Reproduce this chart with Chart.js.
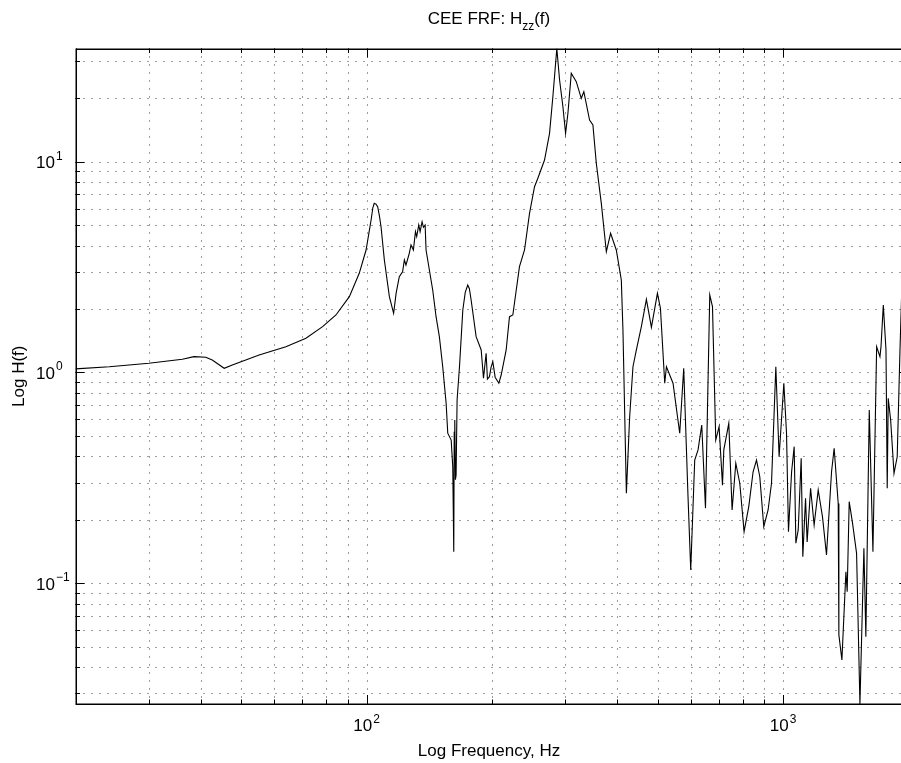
<!DOCTYPE html>
<html>
<head>
<meta charset="utf-8">
<title>CEE FRF</title>
<script src="https://cdn.jsdelivr.net/npm/chart.js@4.4.1/dist/chart.umd.min.js"></script>
<style>
  html, body { margin: 0; padding: 0; overflow: hidden; background: #fff; width: 901px; height: 763px; }
  canvas { display: block; }
</style>
</head>
<body>
<canvas id="frf" width="912" height="763"></canvas>
<script>
// Frequency response magnitude H_zz(f), frequency in Hz
const freqHz = [
  20, 24.1, 30.0, 36.1, 38.5, 41.1, 42.6, 45.5, 47.6, 55.2,
  64.0, 71.5, 78.4, 84.4, 90.9, 96.0, 99.7, 101.2, 102.5, 103.5,
  104.3, 105.3, 106.3, 107.3, 108.3, 110.3, 113.4, 116.1, 117.7, 119.8,
  122.0, 123.2, 124.3, 126.6, 127.8, 129.5, 131.0, 131.9, 133.4, 134.4,
  135.9, 136.9, 138.2, 138.9, 144.1, 146.8, 149.5, 152.3, 155.2, 156.6,
  159.6, 161.0, 161.9, 162.3, 162.8, 163.4, 164.0, 164.9, 167.1, 170.2,
  172.5, 174.9, 176.5, 178.2, 183.2, 188.4, 190.8, 193.6, 195.0, 197.2,
  199.0, 200.9, 203.5, 207.7, 210.4, 216.3, 220.3, 224.4, 232.8, 239.4,
  246.1, 253.0, 257.7, 267.4, 274.9, 280.0, 283.5, 286.2, 290.6, 296.0,
  300.4, 304.3, 310.0, 318.7, 327.6, 332.3, 343.0, 349.4, 356.0, 366.0,
  376.3, 385.3, 397.6, 408.8, 412.5, 420.4, 428.1, 436.0, 444.3, 456.7,
  469.6, 482.8, 499.1, 507.5, 519.7, 524.6, 544.1, 564.6, 577.2, 591.1,
  600.0, 613.4, 624.8, 637.7, 651.0, 666.6, 676.7, 689.1, 701.9, 715.2,
  720.4, 740.6, 754.2, 769.8, 786.9, 805.9, 827.0, 847.1, 863.2, 879.0,
  898.6, 920.3, 937.8, 960.5, 978.1, 1004, 1019, 1030, 1048, 1063,
  1073, 1087, 1105, 1115, 1132, 1142, 1164, 1187, 1214, 1243,
  1271, 1307, 1326, 1356, 1361, 1384, 1415, 1425, 1441, 1468,
  1501, 1529, 1563, 1580, 1610, 1643, 1677, 1708, 1718, 1740,
  1766, 1778, 1788, 1812, 1846, 1879, 1908, 1926, 1972, 2000
];
const magH = [
  1.04, 1.065, 1.106, 1.155, 1.189, 1.181, 1.146, 1.047, 1.085, 1.211,
  1.326, 1.453, 1.650, 1.875, 2.290, 2.957, 3.814, 4.55, 5.294, 6.05,
  6.353, 6.30, 6.122, 5.55, 4.920, 3.420, 2.290, 1.910, 2.376, 2.849,
  3.008, 3.420, 3.237, 3.679, 4.028, 3.814, 4.658, 4.411, 5.012, 4.658,
  5.196, 4.888, 5.012, 3.814, 2.464, 1.840, 1.479, 1.065, 0.714, 0.515,
  0.478, 0.357, 0.141, 0.52, 0.595, 0.31, 0.326, 0.741, 1.065, 1.981,
  2.40, 2.602, 2.50, 2.208, 1.479, 1.279, 0.939, 1.233, 0.93, 0.955,
  1.06, 1.125, 0.95, 0.889, 0.973, 1.279, 1.840, 1.875, 3.178, 3.814,
  5.696, 7.617, 8.350, 10.20, 13.65, 20.37, 27.5, 34.5, 24.44, 18.26,
  13.65, 16.99, 26.30, 24.0, 20.02, 21.51, 15.79, 14.95, 9.84, 6.353,
  3.744, 4.577, 3.814, 2.748, 1.591, 0.267, 0.617, 1.065, 1.279, 1.650,
  2.225, 1.639, 2.376, 2.017, 0.889, 1.065, 0.889, 0.515, 1.047, 0.257,
  0.1155, 0.384, 0.429, 0.563, 0.227, 2.332, 2.053, 0.478, 0.553, 0.292,
  0.429, 0.574, 0.2225, 0.371, 0.298, 0.1756, 0.231, 0.338, 0.384, 0.320,
  0.1854, 0.2225, 0.298, 1.065, 0.398, 0.889, 0.515, 0.1756, 0.338, 0.4445,
  0.1547, 0.1789, 0.392, 0.1336, 0.253, 0.157, 0.282, 0.1889, 0.277, 0.207,
  0.136, 0.338, 0.437, 0.239, 0.0568, 0.0432, 0.1134, 0.0911, 0.2436, 0.1924,
  0.1386, 0.0267, 0.1464, 0.0557, 0.664, 0.141, 1.326, 1.189, 1.326, 2.091,
  1.279, 0.282, 0.754, 0.595, 0.332, 0.398, 1.279, 2.384, 2.6, 2.3
];

// Grid / tick positions and labelled decades
const xGridValues = [20, 30, 40, 50, 60, 70, 80, 90, 100, 200, 300, 400, 500, 600, 700, 800, 900, 1000, 2000];
const yGridValues = [0.03, 0.04, 0.05, 0.06, 0.07, 0.08, 0.09, 0.1, 0.2, 0.3, 0.4, 0.5, 0.6, 0.7, 0.8, 0.9,
                     1, 2, 3, 4, 5, 6, 7, 8, 9, 10, 20, 30];
const xLabelValues = [100, 1000];
const xLabelExponents = ['2', '3'];
const yLabelValues = [0.1, 1, 10];
const yLabelExponents = ['\u22121', '0', '1'];

const titleMain = 'CEE FRF: H';
const titleSub = 'zz';
const titleTail = '(f)';
const xAxisTitle = 'Log Frequency, Hz';
const yAxisTitle = 'Log H(f)';

const FONT = '"Liberation Sans", Arial, Helvetica, sans-serif';
const isDecade = v => Math.abs(Math.log10(v) - Math.round(Math.log10(v))) < 1e-9;

// Dotted grid behind the curve
const dottedGrid = {
  id: 'dottedGrid',
  beforeDatasetsDraw(chart) {
    const { ctx, chartArea: a, scales: { x, y } } = chart;
    ctx.save();
    ctx.strokeStyle = '#3a3a3a';
    ctx.lineWidth = 1;
    ctx.setLineDash([1, 7]);
    ctx.beginPath();
    xGridValues.forEach(v => {
      const px = Math.round(x.getPixelForValue(v)) + 0.5;
      ctx.moveTo(px, a.top);
      ctx.lineTo(px, a.bottom);
    });
    yGridValues.forEach(v => {
      const py = Math.round(y.getPixelForValue(v)) + 0.5;
      ctx.moveTo(a.left, py);
      ctx.lineTo(a.right, py);
    });
    ctx.stroke();
    ctx.restore();
  }
};

// Box, inward tick marks, power-of-ten labels and titles
const boxAndLabels = {
  id: 'boxAndLabels',
  afterDatasetsDraw(chart) {
    const { ctx, chartArea: a, scales: { x, y } } = chart;
    ctx.save();
    ctx.strokeStyle = '#000';
    ctx.lineWidth = 1;
    ctx.beginPath();
    xGridValues.forEach(v => {
      const px = Math.round(x.getPixelForValue(v)) + 0.5;
      const len = isDecade(v) ? 9 : 4.5;
      ctx.moveTo(px, a.bottom); ctx.lineTo(px, a.bottom - len);
      ctx.moveTo(px, a.top); ctx.lineTo(px, a.top + len);
    });
    yGridValues.forEach(v => {
      const py = Math.round(y.getPixelForValue(v)) + 0.5;
      const len = isDecade(v) ? 9 : 4.5;
      ctx.moveTo(a.left, py); ctx.lineTo(a.left + len, py);
      ctx.moveTo(a.right, py); ctx.lineTo(a.right - len, py);
    });
    ctx.stroke();

    ctx.lineWidth = 1.5;
    ctx.strokeRect(Math.round(a.left) + 0.25, Math.round(a.top) + 0.25,
                   Math.round(a.right) - Math.round(a.left), Math.round(a.bottom) - Math.round(a.top));

    ctx.fillStyle = '#000';
    ctx.textBaseline = 'alphabetic';
    ctx.textAlign = 'left';
    const big = '17px ' + FONT;
    const small = '12px ' + FONT;

    // x decade labels, centred on the tick
    xLabelValues.forEach((v, i) => {
      const px = x.getPixelForValue(v);
      ctx.font = big; const wb = ctx.measureText('10').width;
      ctx.font = small; const ws = ctx.measureText(xLabelExponents[i]).width;
      const left = px - (wb + 1 + ws) / 2;
      ctx.font = big; ctx.fillText('10', left, a.bottom + 27);
      ctx.font = small; ctx.fillText(xLabelExponents[i], left + wb + 1, a.bottom + 19);
    });

    // y decade labels, left aligned
    yLabelValues.forEach((v, i) => {
      const py = y.getPixelForValue(v);
      ctx.font = big; const wb = ctx.measureText('10').width;
      ctx.fillText('10', 36, py + 6.5);
      ctx.font = small; ctx.fillText(yLabelExponents[i], 36 + wb + 1, py - 2);
    });

    const cx = (a.left + a.right) / 2;

    // x axis title
    ctx.font = big;
    ctx.textAlign = 'center';
    ctx.fillText(xAxisTitle, cx - 3, a.bottom + 52);

    // y axis title
    ctx.save();
    ctx.translate(24, (a.top + a.bottom) / 2);
    ctx.rotate(-Math.PI / 2);
    ctx.fillText(yAxisTitle, 0, 0);
    ctx.restore();

    // chart title with subscript
    ctx.textAlign = 'left';
    ctx.font = big; const w1 = ctx.measureText(titleMain).width;
    ctx.font = small; const w2 = ctx.measureText(titleSub).width;
    ctx.font = big; const w3 = ctx.measureText(titleTail).width;
    let tx = cx - 3 - (w1 + w2 + w3) / 2;
    ctx.font = big; ctx.fillText(titleMain, tx, 24); tx += w1;
    ctx.font = small; ctx.fillText(titleSub, tx, 30); tx += w2;
    ctx.font = big; ctx.fillText(titleTail, tx, 24);
    ctx.restore();
  }
};

const points = freqHz.map((f, i) => ({ x: f, y: magH[i] }));

new Chart(document.getElementById('frf'), {
  type: 'line',
  data: {
    datasets: [{
      data: points,
      borderColor: '#000',
      borderWidth: 1.1,
      pointRadius: 0,
      tension: 0,
      fill: false
    }]
  },
  options: {
    responsive: false,
    animation: false,
    devicePixelRatio: 1,
    layout: { padding: { top: 48.5, right: 3.5, bottom: 0, left: 0 } },
    plugins: { legend: { display: false }, tooltip: { enabled: false }, title: { display: false } },
    scales: {
      x: {
        type: 'logarithmic',
        min: 20,
        max: 2000,
        grid: { display: false },
        border: { display: false },
        ticks: { display: false },
        afterFit: s => { s.height = 59; }
      },
      y: {
        type: 'logarithmic',
        min: Math.min(...magH),
        max: Math.max(...magH),
        grid: { display: false },
        border: { display: false },
        ticks: { display: false },
        afterFit: s => { s.width = 75.5; }
      }
    }
  },
  plugins: [dottedGrid, boxAndLabels]
});
</script>
</body>
</html>
